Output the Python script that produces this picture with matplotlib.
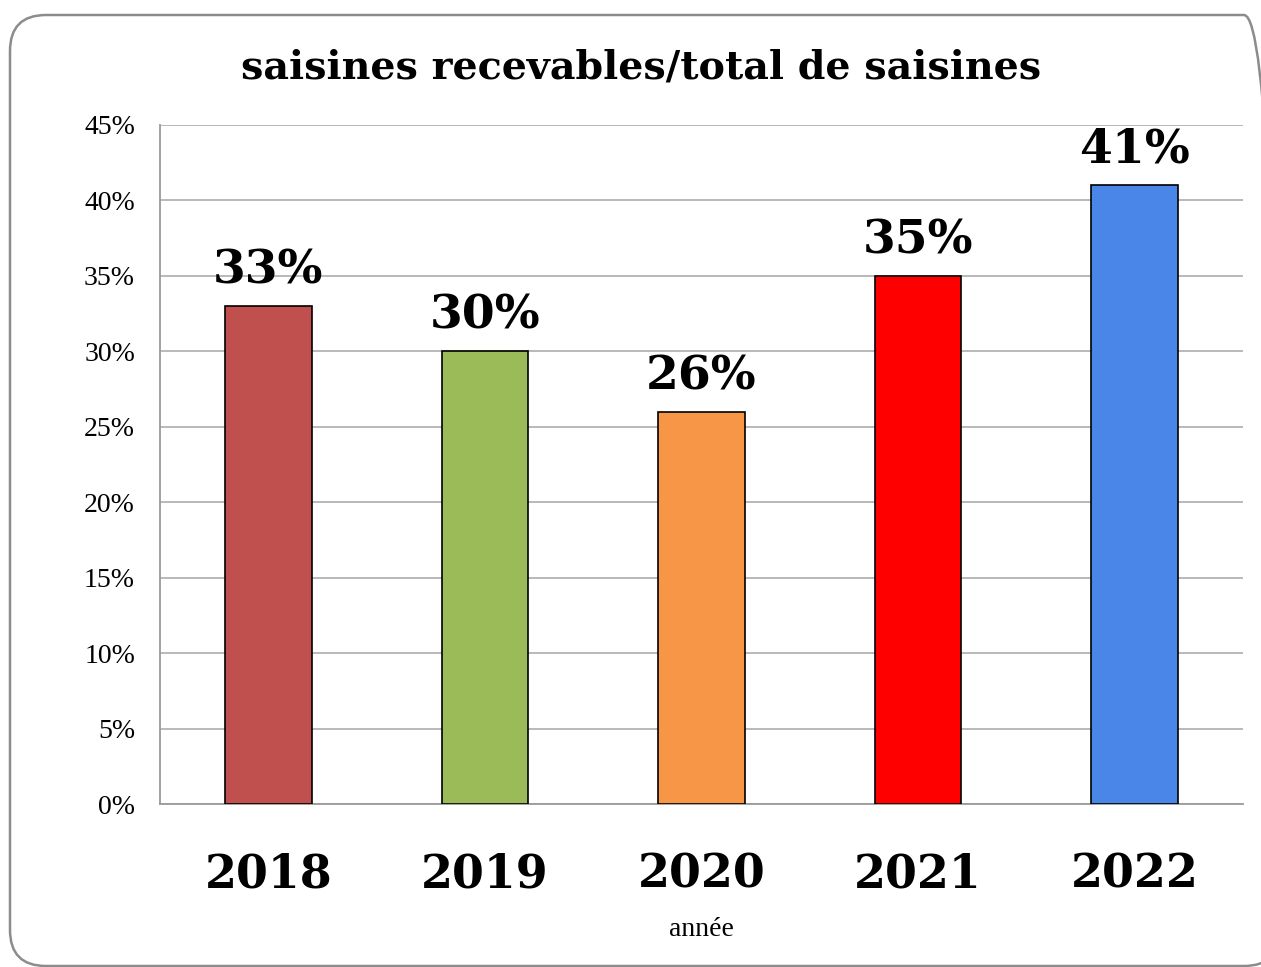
import matplotlib
matplotlib.use("Agg")
import matplotlib.pyplot as plt
from matplotlib.patches import FancyBboxPatch
from matplotlib.transforms import IdentityTransform
from matplotlib.ticker import PercentFormatter

years = ["2018", "2019", "2020", "2021", "2022"]
ratios = [33, 30, 26, 35, 41]
bar_colors = ["#C0504D", "#9BBB59", "#F79646", "#FF0000", "#4A86E8"]
y_ticks = [0, 5, 10, 15, 20, 25, 30, 35, 40, 45]

W, H = 1261, 967
fig = plt.figure(figsize=(W / 100, H / 100), dpi=100)
fig.patch.set_facecolor("white")

# rounded outer frame in pixel units, running off the right edge
frame = FancyBboxPatch((10, H - 966), 1280 - 10, 966 - 15,
                       boxstyle="round,pad=0,rounding_size=36",
                       transform=IdentityTransform(), facecolor="none",
                       edgecolor="#8c8c8c", linewidth=1.8, clip_on=False,
                       zorder=-1)
fig.patches.append(frame)

ax = fig.add_axes([160 / W, 1 - 804 / H, (1243 - 160) / W, (804 - 125) / H])
ax.set_facecolor("none")

x = range(len(years))
bars = ax.bar(x, ratios, width=0.4, color=bar_colors, edgecolor="black",
              linewidth=1.2, zorder=3)
for xi, v in zip(x, ratios):
    ax.annotate(f"{v}%", (xi, v), xytext=(0, 9), textcoords="offset points",
                ha="center", va="bottom", fontsize=34, fontweight="bold",
                family="DejaVu Serif")

ax.set_xlim(-0.5, len(years) - 0.5)
ax.set_ylim(0, 45)
ax.set_yticks(y_ticks)
ax.yaxis.set_major_formatter(PercentFormatter(decimals=0))
ax.set_xticks(list(x))
ax.set_xticklabels(years, fontsize=33, fontweight="bold", family="DejaVu Serif")
for lab in ax.get_yticklabels():
    lab.set_family("Liberation Serif")
    lab.set_fontsize(20)
ax.tick_params(axis="y", length=0, pad=18)
ax.tick_params(axis="x", length=0, pad=34)
ax.grid(axis="y", color="#b3b3b3", linewidth=1.3, zorder=0)
for side in ("top", "right"):
    ax.spines[side].set_visible(False)
for side in ("left", "bottom"):
    ax.spines[side].set_color("#9a9a9a")
    ax.spines[side].set_linewidth(1.3)

ax.set_xlabel("année", fontsize=20, family="Liberation Serif", labelpad=14)
fig.text(641 / W, 1 - 67 / H, "saisines recevables/total de saisines",
         ha="center", va="center", fontsize=28.5, fontweight="bold",
         family="DejaVu Serif")

fig.savefig("out.png", dpi=100)
